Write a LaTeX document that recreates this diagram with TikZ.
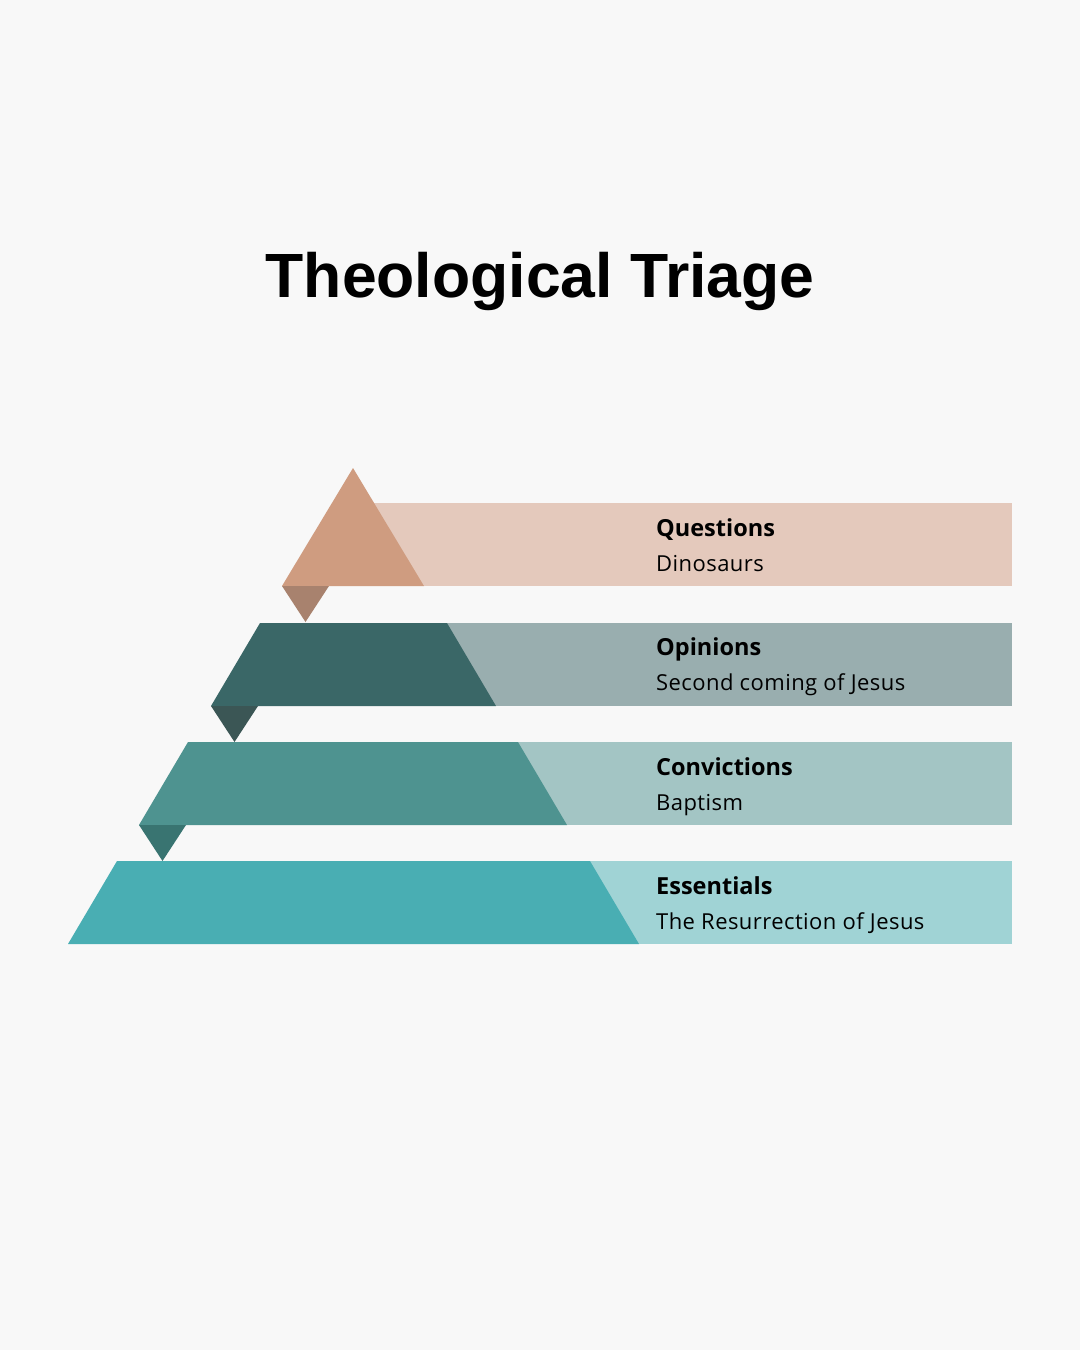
\documentclass[tikz,border=0pt]{standalone}
\usepackage{fontspec}
\setmainfont{Open Sans}
\newfontfamily\titlefont{Liberation Sans}
\definecolor{bg}{HTML}{F8F8F8}
\definecolor{qdark}{HTML}{CF9C80}
\definecolor{qlight}{HTML}{E4C9BC}
\definecolor{qtip}{HTML}{A8826E}
\definecolor{odark}{HTML}{3A6767}
\definecolor{olight}{HTML}{99AEAF}
\definecolor{otip}{HTML}{3B5655}
\definecolor{cdark}{HTML}{4E9390}
\definecolor{clight}{HTML}{A3C5C4}
\definecolor{ctip}{HTML}{397471}
\definecolor{edark}{HTML}{49AEB3}
\definecolor{elight}{HTML}{A0D3D5}
\begin{document}
\begin{tikzpicture}[x=1pt,y=-1pt,
  head/.style={anchor=base west,inner sep=0pt,font=\fontsize{23.5}{28}\selectfont\bfseries},
  sub/.style={anchor=base west,inner sep=0pt,font=\addfontfeatures{LetterSpace=2}\fontsize{22}{26}\selectfont}]
\useasboundingbox (0,0) rectangle (1080,1350);
\fill[bg] (0,0) rectangle (1080,1350);
\node[anchor=base,inner sep=0pt,font=\titlefont\fontsize{62.5}{70}\selectfont\bfseries] (title) at (540,297) {Theological Triage};
% Row 1: Questions
\fill[qlight] (370,503) rectangle (1012,586);
\fill[qdark] (353,468) -- (424,586) -- (282,586) -- cycle;
\fill[qtip] (282,586) -- (329,586) -- (305.5,622) -- cycle;
\node[head] (q) at (656,536) {Questions};
\node[sub] (qs) at (656,571) {Dinosaurs};
% Row 2: Opinions
\fill[olight] (440,623) rectangle (1012,706);
\fill[odark] (260,623) -- (447,623) -- (496,706) -- (211,706) -- cycle;
\fill[otip] (211,706) -- (258,706) -- (234.5,742) -- cycle;
\node[head] (o) at (656,655) {Opinions};
\node[sub] (os) at (656,690) {Second coming of Jesus};
% Row 3: Convictions
\fill[clight] (510,742) rectangle (1012,825);
\fill[cdark] (188,742) -- (518,742) -- (567,825) -- (139,825) -- cycle;
\fill[ctip] (139,825) -- (186,825) -- (162.5,861) -- cycle;
\node[head] (c) at (656,775) {Convictions};
\node[sub] (cs) at (656,810) {Baptism};
% Row 4: Essentials
\fill[elight] (580,861) rectangle (1012,944);
\fill[edark] (117,861) -- (590,861) -- (639,944) -- (68,944) -- cycle;
\node[head] (e) at (656,894) {Essentials};
\node[sub] (es) at (656,929) {The Resurrection of Jesus};
\end{tikzpicture}
\end{document}
